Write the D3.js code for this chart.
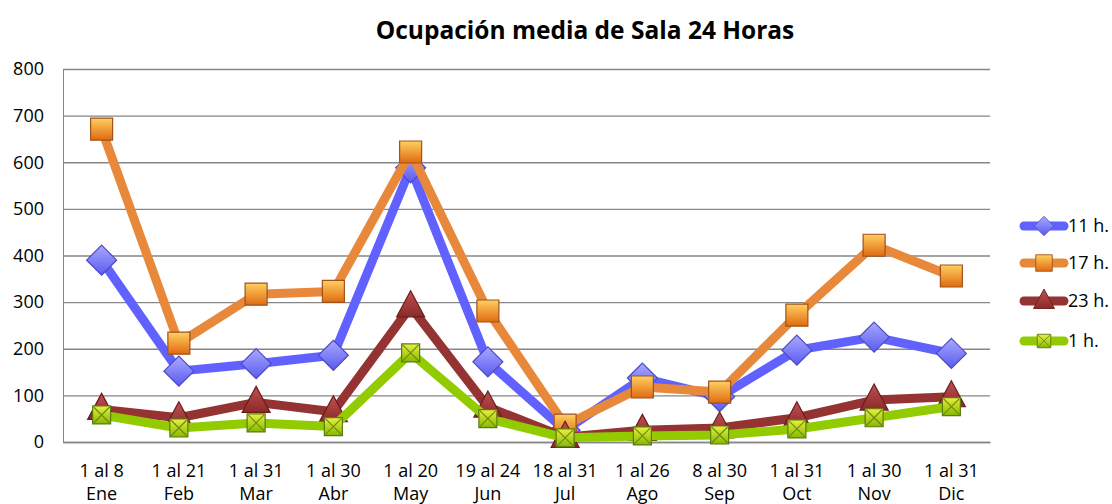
<!DOCTYPE html>
<html>
<head>
<meta charset="utf-8">
<script src="https://cdn.jsdelivr.net/npm/d3@7"></script>
<style>
  body { margin: 0; background: #fff; }
  svg { display: block; font-family: "Open Sans", "Noto Sans", sans-serif; }
</style>
</head>
<body>
<svg id="chart" width="1112" height="504"></svg>
<script>
// data
const ranges = ["1 al 8", "1 al 21", "1 al 31", "1 al 30", "1 al 20", "19 al 24", "18 al 31", "1 al 26", "8 al 30", "1 al 31", "1 al 30", "1 al 31"]
const months = ["Ene", "Feb", "Mar", "Abr", "May", "Jun", "Jul", "Ago", "Sep", "Oct", "Nov", "Dic"]
const h11 = [390, 152, 168, 186, 588, 172, 25, 137, 97, 197, 225, 190]
const h17 = [671, 212, 317, 323, 622, 281, 36, 118, 107, 272, 422, 356]
const h23 = [70, 52, 85, 65, 290, 75, 10, 25, 30, 52, 90, 97]
const h1 = [58, 30, 41, 33, 191, 50, 9, 13, 15, 28, 52, 76]
const yTicks = [0, 100, 200, 300, 400, 500, 600, 700, 800]

const series = [
    { name: "11 h.", values: h11, color: "#6161ff", marker: "diamond", fill: ["#a9a9ff", "#5a5af0"], edge: "#4a4ac0" },
    { name: "17 h.", values: h17, color: "#e8883a", marker: "square", fill: ["#ffd060", "#e06a10"], edge: "#a0521c" },
    { name: "23 h.", values: h23, color: "#953232", marker: "triangle", fill: ["#c05050", "#8a2a2a"], edge: "#6a1c1c" },
    { name: "1 h.", values: h1, color: "#92cc00", marker: "xsquare", fill: ["#e8f040", "#86b800"], edge: "#5c7a10" },
]

const svg = d3.select("#chart")
const plotLeft = 63, plotRight = 990, plotTop = 69, plotBottom = 442

const x = d3.scaleBand().domain(d3.range(months.length)).range([plotLeft, plotRight])
const y = d3.scaleLinear().domain([0, 800]).range([plotBottom, plotTop])

// gradients for the markers
const defs = svg.append("defs")
series.forEach((s, i) => {
    const g = defs.append("linearGradient").attr("id", "grad" + i)
        .attr("x1", 0).attr("y1", 0).attr("x2", 0).attr("y2", 1)
    g.append("stop").attr("offset", "0%").attr("stop-color", s.fill[0])
    g.append("stop").attr("offset", "100%").attr("stop-color", s.fill[1])
})

// title
svg.append("text")
    .attr("x", 585).attr("y", 39)
    .attr("text-anchor", "middle")
    .attr("font-size", 24.5).attr("font-weight", "bold")
    .text("Ocupación media de Sala 24 Horas")

// gridlines + y axis
const yAxis = d3.axisLeft(y).tickValues(yTicks).tickSize(-(plotRight - plotLeft)).tickPadding(19)
const ya = svg.append("g").attr("transform", `translate(${plotLeft},0)`).call(yAxis)
ya.select(".domain").attr("stroke", "#868686")
ya.selectAll(".tick line").attr("stroke", "#868686").attr("stroke-width", 1.3)
ya.selectAll(".tick text").attr("font-size", 18).attr("fill", "#000").attr("font-family", "Open Sans, sans-serif")

// x axis (two-line labels)
const xAxis = d3.axisBottom(x).tickSize(0).tickFormat(() => "")
const xa = svg.append("g").attr("transform", `translate(0,${plotBottom})`).call(xAxis)
xa.select(".domain").attr("stroke", "#868686").attr("stroke-width", 1.3)
xa.selectAll(".tick").each(function (d) {
    const t = d3.select(this).select("text").attr("font-size", 18).attr("fill", "#000")
        .attr("font-family", "Open Sans, sans-serif").attr("y", 0).attr("dy", null)
    t.append("tspan").attr("x", 0).attr("y", 35).text(ranges[d])
    t.append("tspan").attr("x", 0).attr("y", 58).text(months[d])
})

function markerPath(type) {
    if (type === "diamond") return "M0,-15L15,0L0,15L-15,0Z"
    if (type === "triangle") return "M0,-16L14,10L-14,10Z"
    if (type === "square") return "M-11,-11H11V11H-11Z"
    return "M-9,-9H9V9H-9Z"
}

function drawMarker(g, s, i) {
    g.append("path").attr("d", markerPath(s.marker))
        .attr("fill", `url(#grad${i})`).attr("stroke", s.edge).attr("stroke-width", 1.2)
    if (s.marker === "xsquare") {
        g.append("path").attr("d", "M-8,-8L8,8M8,-8L-8,8").attr("stroke", "#6a8c10").attr("stroke-width", 1.2)
    }
}

const line = d3.line().x((d, i) => x(i) + x.bandwidth() / 2).y(d => y(d))

// draw series in order, each one above the previous
series.forEach((s, i) => {
    const g = svg.append("g")
    g.append("path").datum(s.values)
        .attr("d", line).attr("fill", "none")
        .attr("stroke", s.color).attr("stroke-width", 9)
        .attr("stroke-linejoin", "round").attr("stroke-linecap", "round")
    s.values.forEach((v, j) => {
        const m = g.append("g").attr("transform", `translate(${x(j) + x.bandwidth() / 2},${y(v)})`)
        drawMarker(m, s, i)
    })
})

// legend
const legendY = [226, 263, 301, 341]
series.forEach((s, i) => {
    const g = svg.append("g").attr("transform", `translate(1044,${legendY[i]})`)
    g.append("line").attr("x1", -20).attr("x2", 20)
        .attr("stroke", s.color).attr("stroke-width", 9).attr("stroke-linecap", "round")
    const m = g.append("g").attr("transform", s.marker === "diamond" ? "scale(0.65)" : "scale(0.75)")
    drawMarker(m, s, i)
    g.append("text").attr("x", 24).attr("y", 6)
        .attr("font-size", 18).attr("fill", "#000").text(s.name)
})
</script>
</body>
</html>
